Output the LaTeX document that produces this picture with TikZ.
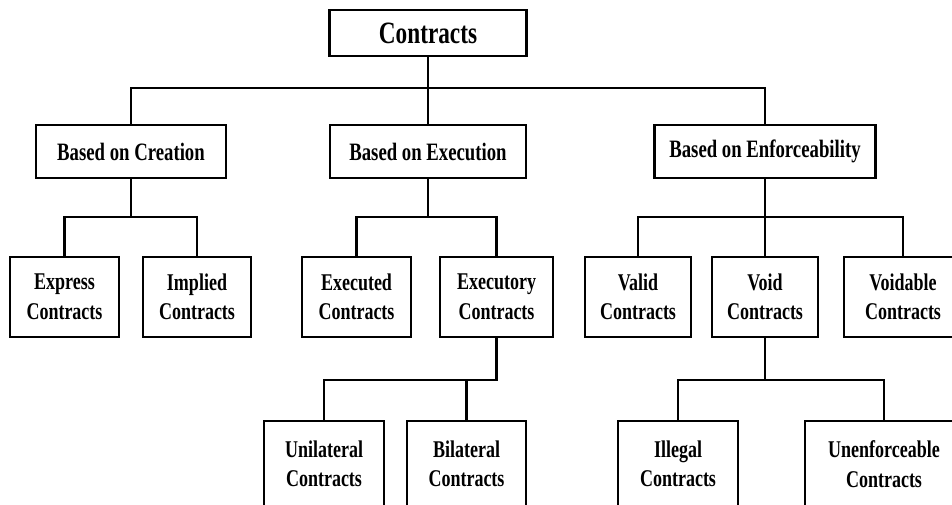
\documentclass[tikz,border=0pt]{standalone}
\usepackage{fontspec}
\setmainfont[FakeStretch=0.75]{Liberation Serif}
\usepackage{tikz}
\tikzset{box/.style={draw, line width=2.4pt, align=center, inner sep=0pt},
  lvl0/.style={box, minimum height=46pt, font=\fontsize{31}{36}\selectfont\bfseries},
  lvl1/.style={box, minimum height=53pt, font=\fontsize{25}{30}\selectfont\bfseries},
  lvl2/.style={box, minimum height=80pt, font=\fontsize{24}{29.5}\selectfont\bfseries},
  lvl3/.style={lvl2, minimum height=86pt},
  link/.style={line width=2.4pt}}

\begin{document}
\begin{tikzpicture}[x=1pt,y=-1pt]
\clip (0,0) rectangle (952,504);
\fill[white] (0,0) rectangle (952,504);

\node[lvl0, minimum width=197pt] (Con) at (428,33) {Contracts};

\node[lvl1, minimum width=190pt] (Cre) at (131,151.5) {Based on Creation};
\node[lvl1, minimum width=196pt] (Exe) at (428,151.5) {Based on Execution};
\node[lvl1, minimum width=221pt] (Enf) at (765,151.5) {Based on Enforceability};

\node[lvl2, minimum width=109pt] (Exp) at (64.5,297) {Express\\Contracts};
\node[lvl2, minimum width=108pt] (Imp) at (197,297) {Implied\\Contracts};
\node[lvl2, minimum width=109pt] (Exd) at (356.5,297) {Executed\\Contracts};
\node[lvl2, minimum width=113pt] (Exy) at (496.5,297) {Executory\\Contracts};
\node[lvl2, minimum width=106pt] (Val) at (638,297) {Valid\\Contracts};
\node[lvl2, minimum width=106pt] (Void) at (765,297) {Void\\Contracts};
\node[lvl2, minimum width=118pt] (Vdb) at (903,297) {Voidable\\Contracts};

\node[lvl3, minimum width=120pt] (Uni) at (324,464) {Unilateral\\Contracts};
\node[lvl3, minimum width=119pt] (Bil) at (466.5,464) {Bilateral\\Contracts};
\node[lvl3, minimum width=120pt] (Ill) at (678,464) {Illegal\\Contracts};
\node[lvl3, minimum width=158pt] (Unf) at (884,464) {Unenforceable\\Contracts};

% bars of the tree
\coordinate (bar0) at (0,88);
\coordinate (bar1) at (0,217);
\coordinate (bar2) at (0,380);

\draw[link] (Con) -- (Exe);
\draw[link] (Cre) -- (Cre |- bar0) -- (Enf |- bar0) -- (Enf);

\draw[link] (Cre) -- (Cre |- bar1);
\draw[link] (Exp) -- (Exp |- bar1) -- (Imp |- bar1) -- (Imp);
\draw[link] (Exe) -- (Exe |- bar1);
\draw[link] (Exd) -- (Exd |- bar1) -- (Exy |- bar1) -- (Exy);
\draw[link] (Enf) -- (Void);
\draw[link] (Val) -- (Val |- bar1) -- (Vdb |- bar1) -- (Vdb);

\draw[link] (Exy) -- (Exy |- bar2) -- (Uni |- bar2) -- (Uni);
\draw[link] (Bil) -- (Bil |- bar2);
\draw[link] (Void) -- (Void |- bar2);
\draw[link] (Ill) -- (Ill |- bar2) -- (Unf |- bar2) -- (Unf);
\end{tikzpicture}
\end{document}
